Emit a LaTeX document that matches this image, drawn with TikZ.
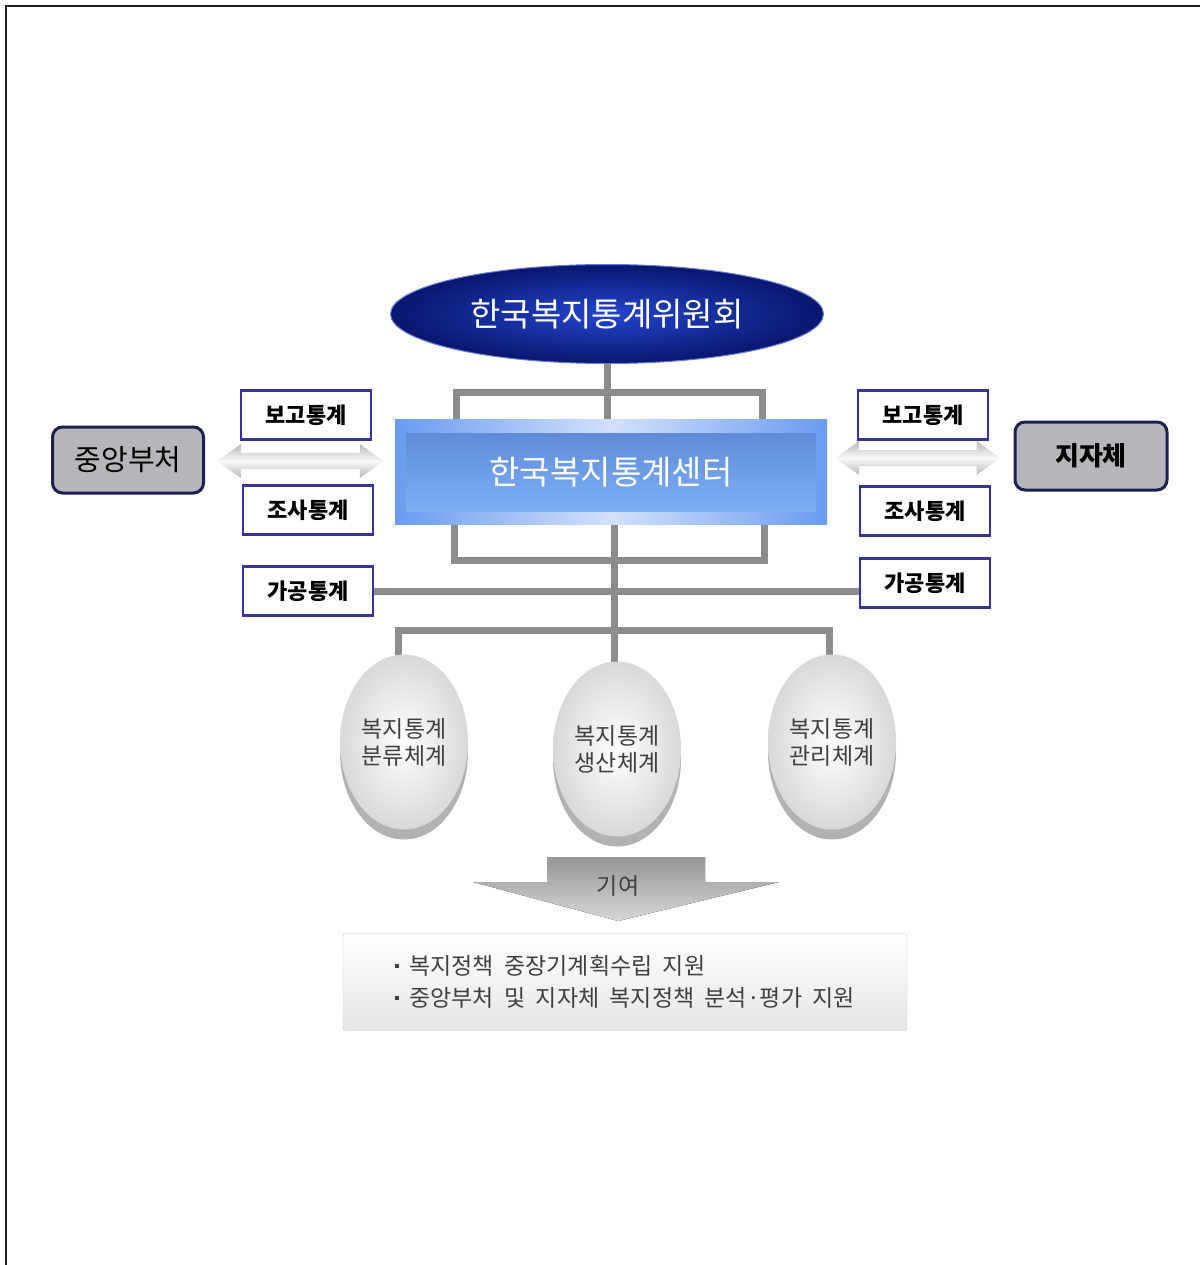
\documentclass[tikz,border=0pt]{standalone}
\usepackage{fontspec}
\setmainfont{Noto Sans CJK KR}
\usepackage{tikz}
\usetikzlibrary{calc,backgrounds,shapes.geometric,shadows}
\usepackage{xcolor}
\definecolor{navy}{RGB}{10,22,110}
\definecolor{royal}{RGB}{35,70,205}
\definecolor{rim}{RGB}{105,155,240}
\definecolor{skyin}{RGB}{125,175,245}
\definecolor{barc}{RGB}{140,140,140}
\definecolor{lbl}{RGB}{55,50,160}
\definecolor{ink}{RGB}{30,30,30}
\definecolor{org}{RGB}{182,182,186}
\definecolor{orgline}{RGB}{30,30,80}
\tikzset{
  tag/.style={draw=lbl,line width=2.5pt,fill=white,minimum width=130pt,minimum height=49pt,
    inner sep=0pt,font=\fontsize{22}{26}\selectfont\bfseries},
  party/.style={draw=orgline,line width=3pt,fill=org,rounded corners=10pt,inner sep=0pt},
  disc/.style={ellipse,minimum width=128pt,minimum height=175pt,inner sep=0pt,
    inner color=white,outer color=gray!30,text=ink!85,align=center,
    font=\fontsize{23}{27}\selectfont,
    drop shadow={shadow xshift=0pt,shadow yshift=-10pt,fill=gray!60,opacity=1}},
  bar/.style={draw=barc,line width=7pt},
  dbl/.style={top color=gray!55,bottom color=gray!55,middle color=gray!5},
}
\newcommand{\blockdbl}[2]{%
  \path[dbl] let \p1=(#1), \p2=(#2) in
    (\p1) -- (\x1+24pt,\y1+17pt) -- (\x1+24pt,\y1+8pt) -- (\x2-24pt,\y1+8pt)
    -- (\x2-24pt,\y1+17pt) -- (\p2) -- (\x2-24pt,\y1-17pt) -- (\x2-24pt,\y1-8pt)
    -- (\x1+24pt,\y1-8pt) -- (\x1+24pt,\y1-17pt) -- cycle;}
\newcommand{\sqb}{\raisebox{0.3em}{\rule{4pt}{4pt}}}
\newcommand{\wsp}{\hspace{0.45em}}
\begin{document}
\begin{tikzpicture}[x=1pt,y=-1pt]
  \useasboundingbox (0,0) rectangle (1200,1265);
  \draw[line width=2pt,ink] (6,1265) -- (6,6) -- (1200,6);

  % committee and centre
  \node[ellipse,minimum width=433pt,minimum height=99pt,inner color=royal,outer color=navy,
    draw=royal!70,line width=1pt,text=white,font=\fontsize{33}{38}\selectfont] (cmt) at (607,314) {한국복지통계위원회};
  \node[minimum width=432pt,minimum height=105pt,left color=rim,right color=rim,
    middle color=white!70!rim] (ctr) at (611,472) {};
  \node[minimum width=410pt,minimum height=78pt,top color=rim!90!black,bottom color=skyin,
    text=white,font=\fontsize{33}{38}\selectfont] (ctrin) at (ctr.center) {한국복지통계센터};

  % partners
  \node[party,minimum width=151pt,minimum height=66pt,font=\fontsize{29}{33}\selectfont] (mof) at (128,460) {중앙부처};
  \node[party,minimum width=152pt,minimum height=68pt,font=\fontsize{26}{30}\selectfont\bfseries] (lgov) at (1091,456) {지자체};

  % statistics labels
  \node[tag] (rep1) at (306,415) {보고통계};
  \node[tag] (srv1) at (308,510) {조사통계};
  \node[tag] (prc1) at (308,591) {가공통계};
  \node[tag] (rep2) at (923,415) {보고통계};
  \node[tag] (srv2) at (925,511) {조사통계};
  \node[tag] (prc2) at (925,583) {가공통계};

  % systems
  \node[disc] (sys1) at (404,742) {복지통계\\분류체계};
  \node[disc] (sys2) at (617,749) {복지통계\\생산체계};
  \node[disc] (sys3) at (832,742) {복지통계\\관리체계};

  % contribution
  \fill[top color={rgb,255:red,150;green,150;blue,150},bottom color={rgb,255:red,215;green,215;blue,215}]
    (547,857) -- (705,857) -- (705,882) -- (779,882) -- (618,921) -- (473,882) -- (547,882) -- cycle;
  \node[font=\fontsize{23}{26}\selectfont,text=ink!85] (give) at (618,886) {기여};
  \node[draw=gray!45,rounded corners=3pt,top color=white,bottom color=gray!20,minimum width=564pt,
    minimum height=97pt,align=left,text=ink!85,font=\fontsize{23}{32}\selectfont] (res) at (625,982)
    {\sqb\wsp 복지정책\wsp 중장기계획수립\wsp 지원\\\sqb\wsp 중앙부처\wsp 및\wsp 지자체\wsp 복지정책\wsp 분석·평가\wsp 지원};

  % exchange arrows
  \coordinate (la) at ($(mof.east)+(12,1)$);
  \coordinate (lb) at ($(ctr.west)+(-11,-11)$);
  \coordinate (ra) at ($(ctr.east)+(8,-14)$);
  \coordinate (rb) at ($(lgov.west)+(-13,2)$);
  \blockdbl{la}{lb}
  \blockdbl{ra}{rb}

  % links
  \begin{scope}[on background layer]
    \draw[bar] (cmt.south) -- (cmt.south |- ctr.north);
    \draw[bar] (456,0 |- ctr.north) |- (762,392) -- (762,0 |- ctr.north);
    \draw[bar] (454,0 |- ctr.south) |- (764,560) -- (764,0 |- ctr.south);
    \draw[bar] (614,0 |- ctr.south) -- (614,0 |- sys2.center);
    \draw[bar] (prc1.east) -- (prc1.east -| prc2.west);
    \draw[bar] (398,0 |- sys1.center) |- (829,630) -- (829,0 |- sys3.center);
  \end{scope}
\end{tikzpicture}
\end{document}
